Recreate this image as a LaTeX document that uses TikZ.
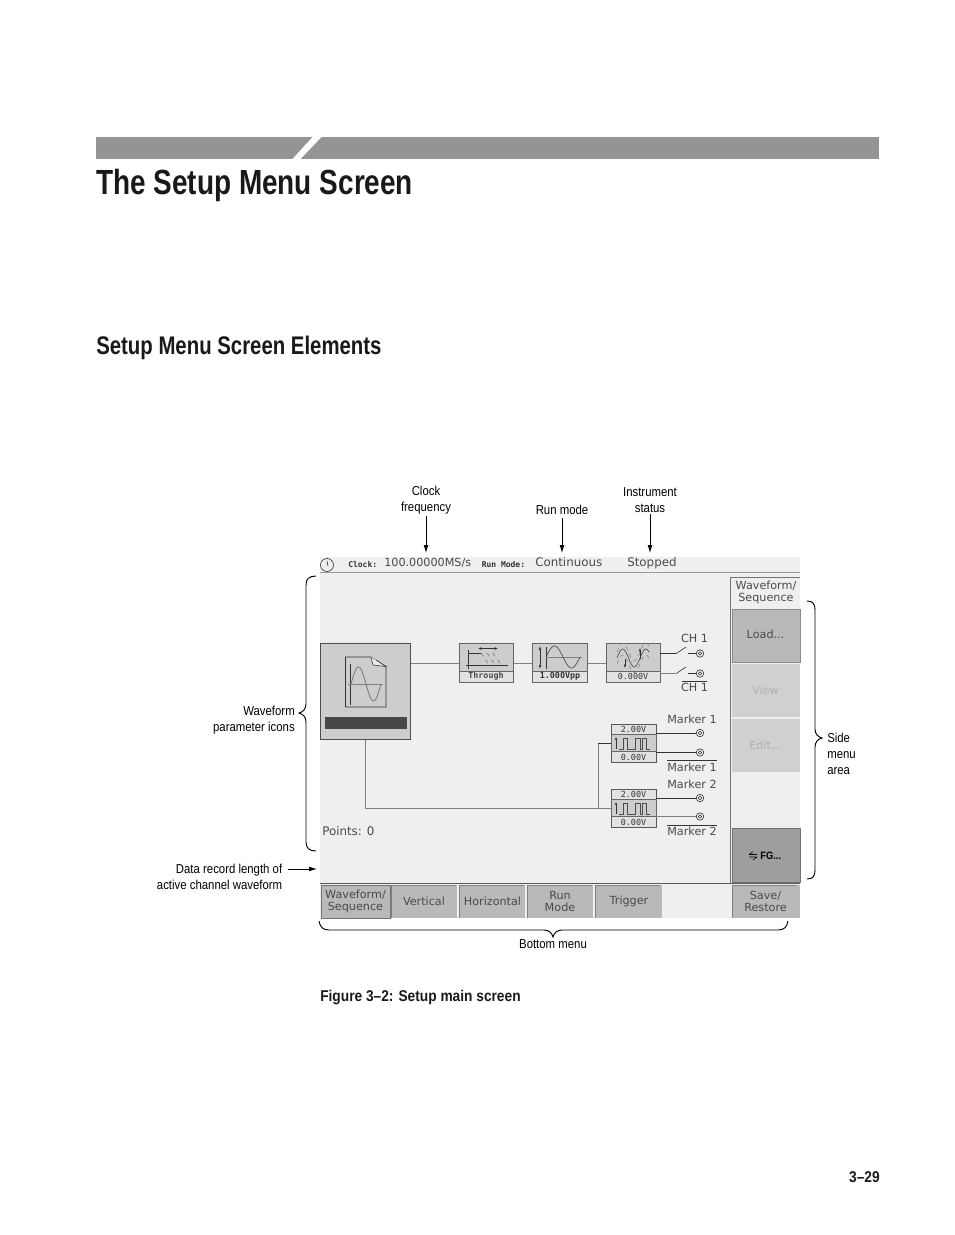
\documentclass[tikz,border=0pt]{standalone}
\usepackage{fontspec}
\setmainfont{Liberation Sans}
\newfontfamily\cond[FakeStretch=0.80]{Liberation Sans}
\newfontfamily\lab[FakeStretch=0.88]{Liberation Sans}
\newfontfamily\scr{DejaVu Sans}
\newfontfamily\scrm{DejaVu Sans Mono}
\newcommand{\fs}[2]{\fontsize{#1}{#2}\selectfont}
\usetikzlibrary{arrows.meta}
\definecolor{scrbg}{HTML}{EFEFEF}
\definecolor{btn}{HTML}{B9B9B9}
\definecolor{ico}{HTML}{CDCDCD}
\definecolor{cell}{HTML}{E2E2E2}
\definecolor{wire}{HTML}{808080}
\definecolor{txt}{HTML}{4A4A4A}
\definecolor{dark}{HTML}{333333}
\tikzset{
  x=0.75pt,y=-0.75pt,
  calloutlabel/.style={font=\lab\fs{9.7}{12}\selectfont,align=center,text=black,inner sep=0pt},
  arr/.style={-{Latex[length=6pt,width=3.6pt]},line width=0.6pt,black},
  brace/.style={line width=0.7pt,black},
  screen/.style={font=\scr\fs{8.4}{9.3}\selectfont,text=txt,inner sep=0pt,align=center},
  small/.style={font=\scrm\bfseries\fs{6}{7}\selectfont,text=dark,inner sep=0pt},
  tiny/.style={font=\scrm\fs{6.3}{7}\selectfont,text=dark,inner sep=0pt},
  btnbox/.style={fill=btn,draw=#1,line width=0.6pt},
  icobox/.style={fill=ico,draw=#1,line width=0.6pt},
  wireline/.style={draw=wire,line width=0.6pt},
  darkline/.style={draw=dark,line width=0.6pt},
  port/.style={circle,draw=dark,line width=0.45pt,minimum size=5.6pt,inner sep=0pt},
}
\begin{document}
\begin{tikzpicture}
\useasboundingbox (0,0) rectangle (954,1235);
\fill[white] (0,0) rectangle (954,1235);
% header
\fill[black!42] (96,137) rectangle (879,159);
\fill[white] (313,136.5) -- (322,136.5) -- (300,159.5) -- (292,159.5) -- cycle;
\node[anchor=base west,inner sep=0pt,font=\cond\bfseries\fs{26.2}{30}\selectfont,text=black!90] (title) at (96,194) {The Setup Menu Screen};
\node[anchor=base west,inner sep=0pt,font=\cond\bfseries\fs{19.1}{22}\selectfont,text=black!90] (sect) at (96,354) {Setup Menu Screen Elements};
\node[anchor=base west,inner sep=0pt,font=\lab\bfseries\fs{11.7}{14}\selectfont,text=black!90] (figcap) at (320,1001) {Figure 3–2: Setup main screen};
\node[anchor=base east,inner sep=0pt,font=\lab\bfseries\fs{11.7}{14}\selectfont,text=black!90] (pageno) at (880,1182) {3–29};
% screen
\fill[scrbg] (320,557) rectangle (800,918);
\draw[black!40,line width=1pt] (320,572.5) -- (800,572.5);
\draw[black!55,line width=0.7pt] (730.5,577) -- (730.5,883);
\draw[black!55,line width=0.7pt] (730.5,577) -- (800,577);
\draw[black!65,line width=0.8pt] (320,883.5) -- (800,883.5);
% clock icon
\draw[dark,line width=0.5pt] (327,565) circle[radius=6.5];
\draw[dark,line width=0.5pt] (327,561) -- (328,566);
\node[small,anchor=base west] (clk) at (348,567) {Clock:};
\node[screen,anchor=base west] (clkv) at (384,566.5) {100.00000MS/s};
\node[small,anchor=base west] (rm) at (481.5,567) {Run Mode:};
\node[screen,anchor=base west,font=\scr\fs{8.9}{9.3}\selectfont] (rmv) at (535,566.5) {Continuous};
\node[screen,anchor=base west,font=\scr\fs{8.9}{9.3}\selectfont] (st) at (627,566.5) {Stopped};
% side menu
\node[screen,anchor=center] (sm0) at (766,592.5) {Waveform/\\Sequence};
\draw[btnbox=black!45] (732,609) rectangle (800,662);
\node[screen] (sm1) at (765.5,634.5) {Load...};
\fill[ico!95!white] (732,664) rectangle (800,717);
\node[screen,text=black!30] (sm2) at (765.5,690) {View};
\fill[ico!95!white] (732,719) rectangle (800,772);
\node[screen,text=black!30] (sm3) at (765.5,745) {Edit...};
\draw[fill=black!38,draw=black!55,line width=0.7pt] (732,828) rectangle (800,882);
\node[small,font=\lab\bfseries\fs{8}{9}\selectfont,text=black,anchor=west] (sm4) at (760,855.5) {FG...};
\draw[black,line width=0.45pt] (749,854.5) -- (757,854.5) (749,857) -- (757,857) (749,854.5) -- (753,851.5) (757,857) -- (753,860);
% bottom menu
\draw[btnbox=black!55] (321,885) rectangle (390,918);
\node[screen] (b1) at (355.5,901.5) {Waveform/\\Sequence};
\fill[btn] (391,885) rectangle (457,918);
\node[screen] (b2) at (424,901) {Vertical};
\fill[btn] (459,885) rectangle (525,918);
\node[screen] (b3) at (492.5,901) {Horizontal};
\fill[btn] (527,885) rectangle (593,918);
\node[screen] (b4) at (560,901.5) {Run\\Mode};
\fill[btn] (595,885) rectangle (662,918);
\node[screen] (b5) at (629,901) {Trigger};
\fill[btn] (732,885) rectangle (800,918);
\node[screen] (b6) at (765.5,901.5) {Save/\\Restore};
\foreach \xa in {391,459,527,595,732}{\draw[black!50,line width=0.7pt] (\xa,885) -- (\xa,918) (\xa,885.3) -- (\xa+65,885.3);}
% wires
\coordinate (bigE) at (410,663);
\coordinate (thW) at (459,663);
\coordinate (thE) at (513,663);
\coordinate (amW) at (532,663);
\coordinate (amE) at (587,663);
\coordinate (ofW) at (606,663);
\draw[wireline] (bigE) -- (thW) (thE) -- (amW) (amE) -- (ofW);
\coordinate (bigS) at (365,739);
\coordinate (mk2W) at (611,808);
\coordinate (mk1W) at (611,743);
\coordinate (tap) at (598,808);
\draw[wireline] (bigS) |- (mk2W);
\draw[wireline] (tap) -- (598,743);
\draw[darkline] (598,743) -- (mk1W);
% big box
\draw[fill=ico,draw=black!70,line width=0.65pt] (320,643) rectangle (410,739);
\fill[black!72] (325,717) rectangle (407,729);
\draw[dark,line width=0.5pt,fill=ico] (345.5,657) -- (371,657) -- (386,666.5) -- (386,707) -- (345.5,707) -- cycle;
\draw[dark,line width=0.45pt,fill=white!60!ico] (371,657) -- (373,665) -- (386,666.5) -- (376,660);
\draw[dark,line width=0.7pt] (350.5,664) -- (350.5,705);
\draw[wire,line width=0.5pt] (348,684) -- (383,684);
\draw[wire,line width=0.7pt] plot[domain=0:360,samples=45,smooth] ({351+\x/360*30},{684-sin(\x)*17});
% through
\draw[icobox=black!60] (459,643) rectangle (513,682);
\draw[fill=cell,draw=black!60,line width=0.6pt] (459,671) rectangle (513,682);
\draw[dark,line width=0.5pt] (468,650) -- (468,669) (466,665) -- (508,665) (468,653) -- (481,653);
\draw[wire,line width=0.5pt,dashed] (481,653) -- (490,666) (487,653) -- (496,666) (493,653) -- (502,666);
\draw[dark,line width=0.4pt,<->,>={Latex[length=2.5pt,width=2pt]}] (478,648.5) -- (498,648.5);
\node[small,font=\scrm\bfseries\fs{6.3}{7}\selectfont,text=txt] (thT) at (486,676.5) {Through};
% amplitude
\draw[icobox=black!60] (532,643) rectangle (587,682);
\draw[fill=cell,draw=black!60,line width=0.6pt] (532,671) rectangle (587,682);
\draw[dark,line width=0.45pt,<->,>={Latex[length=3pt,width=2pt]}] (540,646) -- (540,669);
\draw[dark,line width=0.45pt] (546,647) -- (546,669);
\draw[wire,line width=0.5pt] (546,657) -- (582,657);
\draw[black!70,line width=0.5pt] plot[domain=0:360,samples=40,smooth] ({546+\x/360*34},{657-sin(\x)*11});
\node[small,font=\scrm\bfseries\fs{6.3}{7}\selectfont] (amT) at (560,676.5) {1.000Vpp};
% offset
\draw[icobox=black!60] (606,643) rectangle (660,682);
\draw[fill=cell,draw=black!60,line width=0.6pt] (606,671) rectangle (660,682);
\draw[black!70,line width=0.5pt] plot[domain=0:500,samples=40,smooth] ({617+\x/500*32},{658-sin(\x)*9});
\draw[wire,line width=0.4pt,dashed] plot[domain=0:500,samples=30,smooth] ({617+\x/500*32},{652-sin(\x)*9});
\draw[wire,line width=0.4pt,dashed] plot[domain=0:500,samples=30,smooth] ({617+\x/500*32},{664-sin(\x)*9});
\draw[dark,line width=0.4pt,->,>={Latex[length=2.5pt,width=2pt]}] (625,659) -- (625,668);
\draw[dark,line width=0.4pt,->,>={Latex[length=2.5pt,width=2pt]}] (640,659) -- (640,648);
\node[tiny] (ofT) at (633,676.5) {0.000V};
% channel outputs
\foreach \yy/\c/\nm in {653/dark/a,673/wire/b}{
  \coordinate (sw\nm) at (677,\yy);
  \node[port] (po\nm) at (700,\yy+0.5) {};
  \node[circle,draw=dark,line width=0.4pt,minimum size=2.5pt,inner sep=0pt] at (700,\yy+0.5) {};
  \draw[draw=\c,line width=0.6pt] (660,\yy) -- (sw\nm);
  \draw[draw=dark,line width=0.45pt] (sw\nm) -- ++(9,-6);
  \draw[draw=dark,line width=0.45pt] (688,\yy+0.5) -- (po\nm);
}
\node[screen,anchor=center] (ch1) at (694.5,638.5) {CH 1};
\node[screen,anchor=center] (ch1b) at (694.5,687.5) {CH 1};
\draw[dark,line width=0.5pt] (682,681) -- (707,681);
% marker boxes
\foreach \yt/\nm in {724/a,789/b}{
  \draw[fill=cell,draw=black!65,line width=0.6pt] (611,\yt) rectangle (656,\yt+38);
  \draw[fill=ico,draw=black!60,line width=0.6pt] (611,\yt+10.5) rectangle (656,\yt+27.5);
  \draw[dark,line width=0.4pt,->,>={Latex[length=2pt,width=2pt]}] (616,\yt+25) -- (616,\yt+13);
  \draw[black!70,line width=0.5pt] (619,\yt+25) -- (623,\yt+25) -- (623,\yt+14) -- (627,\yt+14) -- (627,\yt+25) -- (635,\yt+25) -- (635,\yt+14) -- (640,\yt+14) -- (640,\yt+25) -- (642,\yt+25) -- (642,\yt+14) -- (646,\yt+14) -- (646,\yt+25) -- (650,\yt+25);
  \node[tiny] at (633.5,\yt+5.5) {2.00V};
  \node[tiny] at (633.5,\yt+33.5) {0.00V};
}
\foreach \yy/\c/\nm in {733/dark/c,752.5/dark/d,798/dark/e,816.5/wire/f}{
  \node[port] (po\nm) at (700,\yy) {};
  \node[circle,draw=dark,line width=0.4pt,minimum size=2.5pt,inner sep=0pt] at (700,\yy) {};
  \draw[draw=\c,line width=0.6pt] (656,\yy) -- (po\nm);
}
\node[screen,anchor=center] (m1) at (692,719) {Marker 1};
\node[screen,anchor=center] (m1b) at (692,767) {Marker 1};
\node[screen,anchor=center] (m2) at (692,784) {Marker 2};
\node[screen,anchor=center] (m2b) at (692,831.5) {Marker 2};
\draw[dark,line width=0.5pt] (667,760.5) -- (717,760.5) (667,825.5) -- (717,825.5);
\node[screen,anchor=base west,font=\scr\fs{8.9}{9}\selectfont] (pts) at (322,835) {Points: 0};
% callouts
\node[calloutlabel] (lclock) at (426,500.5) {Clock\\frequency};
\node[calloutlabel] (lrun) at (562,509.5) {Run mode};
\node[calloutlabel] (lstat) at (650,500.5) {Instrument\\status};
\node[calloutlabel,anchor=east,align=right] (lwave) at (295,720.5) {Waveform\\parameter icons};
\node[calloutlabel,anchor=east,align=right] (ldata) at (282.5,876.5) {Data record length of\\active channel waveform};
\node[calloutlabel,align=left,anchor=west] (lside) at (827,754) {Side\\menu\\area};
\node[calloutlabel] (lbot) at (553,944.5) {Bottom menu};
\coordinate (aclock) at (426,553);
\coordinate (arun) at (562,553);
\coordinate (astat) at (650,553);
\coordinate (adata) at (317,869);
\coordinate (sdata) at (288,869);
\draw[arr] (lclock.south) ++(0,1) -- (aclock);
\draw[arr] (lrun.south) ++(0,3) -- (arun);
\draw[arr] (lstat.south) ++(0,1) -- (astat);
\draw[arr] (sdata) -- (adata);
% braces
\draw[brace] (316,576) .. controls (309,576) and (306,579) .. (306,585) -- (306,704) .. controls (306,709) and (303,712) .. (299,713) .. controls (303,714) and (306,717) .. (306,722) -- (306,842) .. controls (306,848) and (309,851) .. (316,851);
\draw[brace] (807,601) .. controls (813,601) and (815,604) .. (815,610) -- (815,729) .. controls (815,734) and (818,737) .. (822,738) .. controls (818,739) and (815,742) .. (815,747) -- (815,870) .. controls (815,876) and (813,879) .. (807,879);
\draw[brace] (319,921) .. controls (320,927) and (323,930) .. (329,930) -- (544,930) .. controls (549,930) and (552,933) .. (553,937) .. controls (554,933) and (557,930) .. (562,930) -- (778,930) .. controls (784,930) and (787,927) .. (788,921);
\end{tikzpicture}
\end{document}
